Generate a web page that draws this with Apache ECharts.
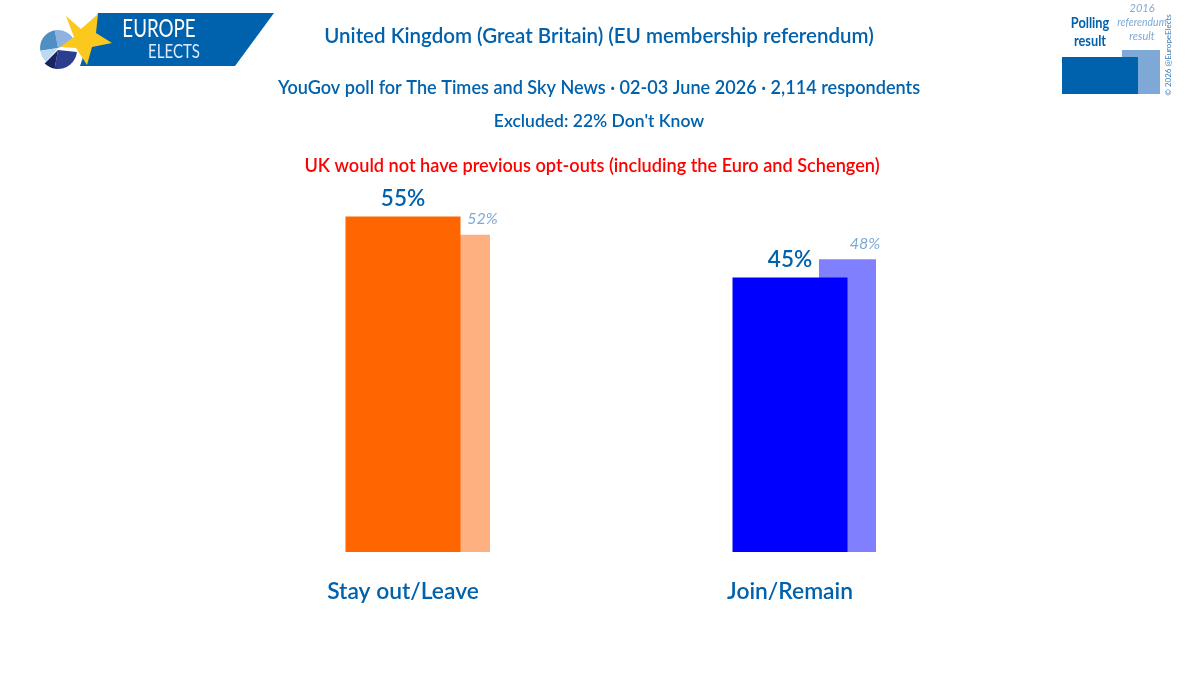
<!DOCTYPE html>
<html><head><meta charset="utf-8">
<style>html,body{margin:0;padding:0;background:#fff}#c{width:1200px;height:691px}</style>
<script src="https://cdn.jsdelivr.net/npm/echarts@6/dist/echarts.min.js"></script>
</head><body><div id="c"></div>
<script>
const categories = ['Stay out/Leave', 'Join/Remain'];
const pollValues = [55, 45];
const resultValues = [52, 48];
const pollColors = ['#ff6600', '#0000ff'];
const resultColors = ['#ffb080', '#8080ff'];
const resultLabelOffsets = [21, 17.5];
const BLUE = '#0061ad', LIGHT = '#7ea9d6', FONT = 'Lato';
const headings = [
  ['United Kingdom (Great Britain) (EU membership referendum)', 594, 31, 20.5, BLUE],
  ['YouGov poll for The Times and Sky News · 02-03 June 2026 · 2,114 respondents', 594, 83, 18.1, BLUE],
  ['Excluded: 22% Don\'t Know', 594, 116.5, 17.5, BLUE],
  ['UK would not have previous opt-outs (including the Euro and Schengen)', 587, 161, 18.15, '#ff0000']
];
const txt = (text, x, y, size, fill, extra, sx) => ({type:'text', z:20, x, y, scaleX:sx||1, style:{text, x:0, y:0, fill, align:'center', verticalAlign:'middle', font:`${extra||''} ${size}px ${FONT}`}});
const chart = echarts.init(document.getElementById('c'), null, {renderer:'canvas'});
const yAxisBase = {type:'value', min:0, max:60, show:false};
chart.setOption({
  animation:false,
  backgroundColor:'#fff',
  title: headings.map(h => ({text:h[0], left:h[1], top:h[2], textAlign:'center', textVerticalAlign:'middle',
    textStyle:{fontFamily:FONT, fontSize:h[3], fontWeight:600, color:h[4]}})),
  grid:[
    {left:209.5, width:774, top:186, height:366},
    {left:268.5, width:772, top:186, height:366}
  ],
  xAxis:[
    {type:'category', gridIndex:0, data:categories, axisLine:{show:false}, axisTick:{show:false},
      axisLabel:{fontFamily:FONT, fontSize:22.8, fontWeight:600, color:BLUE, margin:28}},
    {type:'category', gridIndex:1, data:categories, show:false}
  ],
  yAxis:[Object.assign({gridIndex:0}, yAxisBase), Object.assign({gridIndex:1}, yAxisBase)],
  series:[
    {type:'bar', name:'2016 referendum result', xAxisIndex:1, yAxisIndex:1, barWidth:57, z:2,
      data:resultValues.map((v,i)=>({value:v, itemStyle:{color:resultColors[i]}, label:{offset:[resultLabelOffsets[i],0]}})),
      label:{show:true, position:'top', distance:7.5, formatter:'{c}%', fontFamily:FONT, fontStyle:'italic', fontSize:16, color:LIGHT}},
    {type:'bar', name:'Polling result', xAxisIndex:0, yAxisIndex:0, barWidth:115, z:3,
      data:pollValues.map((v,i)=>({value:v, itemStyle:{color:pollColors[i]}})),
      label:{show:true, position:'top', distance:6, formatter:'{c}%', fontFamily:FONT, fontSize:22.5, fontWeight:600, color:BLUE}}
  ],
  graphic:[
    {type:'polygon', z:10, shape:{points:[[98,13],[274,13],[235,66],[80,66]]}, style:{fill:BLUE}},
    {type:'sector', z:11, shape:{cx:58,cy:48,r:18,r0:0,startAngle:-1.75,endAngle:-0.35}, style:{fill:'#8fb2de'}},
    {type:'sector', z:11, shape:{cx:58,cy:48,r:18,r0:0,startAngle:-3.3,endAngle:-1.75}, style:{fill:'#4f90c4'}},
    {type:'sector', z:11, shape:{cx:58,cy:48,r:18,r0:0,startAngle:2.3,endAngle:2.98}, style:{fill:'#bcd9f2'}},
    {type:'sector', z:11, shape:{cx:58,cy:50,r:19,r0:0,startAngle:0.1,endAngle:1.75}, style:{fill:'#2b3f8e'}},
    {type:'sector', z:11, shape:{cx:58,cy:50,r:19,r0:0,startAngle:1.75,endAngle:2.35}, style:{fill:'#1a2560'}},
    {type:'polygon', z:12, shape:{points:[[66,16],[81,29],[98,14],[96,33],[112,43],[92,47],[87,65],[76,48],[60,47],[74,37]]}, style:{fill:'#fbc81e'}},
    txt('EUROPE', 159, 29, 25, '#fff', '', 0.75),
    txt('ELECTS', 174, 52, 20, '#dfeafa', '', 0.75),
    {type:'rect', z:10, shape:{x:1122,y:50,width:38,height:44}, style:{fill:LIGHT}},
    {type:'rect', z:11, shape:{x:1062,y:57,width:76,height:37}, style:{fill:BLUE}},
    txt('Polling', 1090, 23, 14.5, BLUE, '700', 0.88),
    txt('result', 1090, 41, 14.5, BLUE, '700', 0.88),
    txt('2016', 1142, 8, 11, LIGHT, 'italic'),
    txt('referendum', 1142, 22, 11, LIGHT, 'italic', 0.95),
    txt('result', 1142, 36, 11, LIGHT, 'italic'),
    {type:'text', z:20, x:1168, y:55, rotation:Math.PI/2, style:{text:'© 2026 @EuropeElects', x:0, y:0, align:'center', verticalAlign:'middle', fill:'#3f7fb8', font:`8px ${FONT}`}}
  ]
});
</script></body></html>
